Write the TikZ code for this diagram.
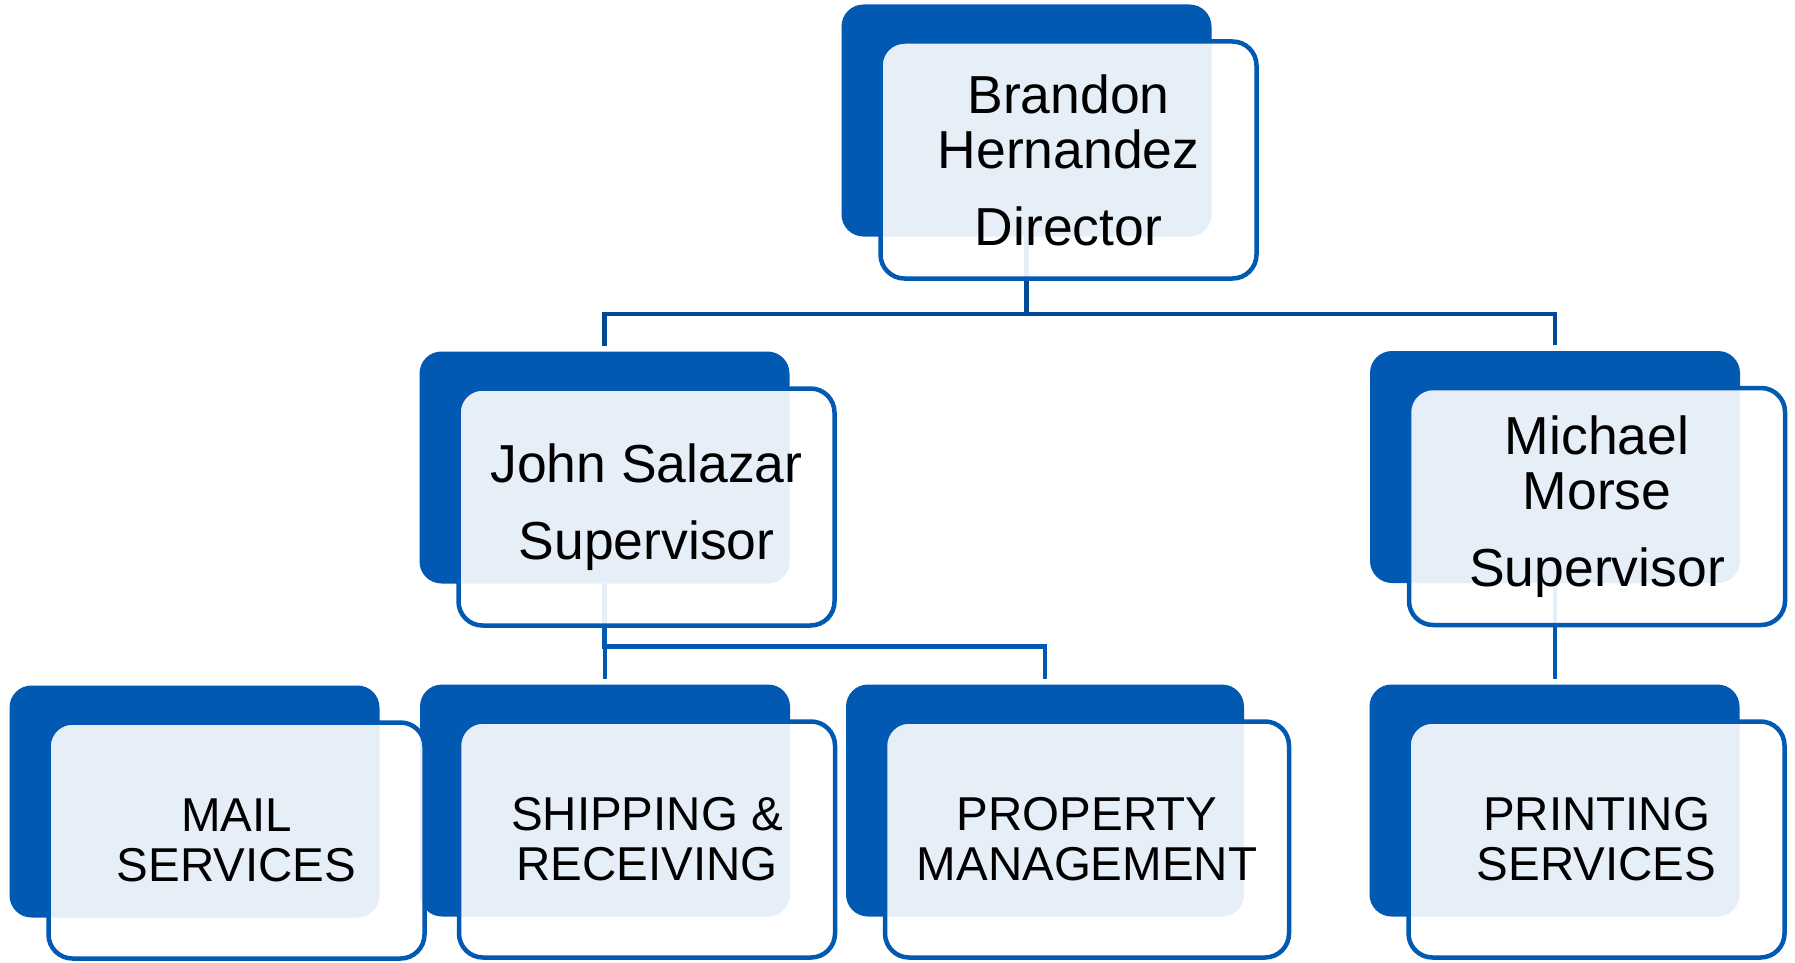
\documentclass[tikz,border=0pt]{standalone}
\usepackage{fontspec}
\setmainfont{Liberation Sans}
\usetikzlibrary{backgrounds}
\definecolor{boxblue}{RGB}{1,89,178}
\definecolor{linkblue}{RGB}{0,74,148}
\begin{document}
\begin{tikzpicture}[x=1pt,y=-1pt,
  backcard/.style={rectangle, rounded corners=22pt, fill=boxblue, draw=none,
    minimum width=370pt, minimum height=232pt, anchor=north west,
    inner sep=0pt, outer sep=0pt},
  frontcard/.style={rectangle, rounded corners=24pt, draw=boxblue, line width=4.5pt,
    fill=white, fill opacity=0.9, text opacity=1, text=black,
    minimum width=376pt, minimum height=237pt, anchor=north west,
    inner sep=0pt, outer sep=0pt, align=center},
  namefont/.style={font=\fontsize{53.5}{55}\selectfont},
  unitfont/.style={font=\fontsize{47.5}{50}\selectfont},
  toplink/.style={draw=linkblue, line width=4.5pt},
  sublink/.style={draw=boxblue, line width=4.5pt},
]
\useasboundingbox (0,0) rectangle (1795,963);

% back cards
\node[backcard] (dirB)  at (841.5,4.5) {};
\node[backcard] (johnB) at (419.5,351.5) {};
\node[backcard] (mikeB) at (1370,351) {};
\node[backcard] (mailB) at (9.5,685.5) {};
\node[backcard] (shipB) at (420,684.5) {};
\node[backcard, minimum width=398pt] (propB) at (846,684.5) {};
\node[backcard] (printB) at (1369.5,684.5) {};

% front cards with their labels
\node[frontcard, namefont] (dir) at (880.5,41.5)
  {Brandon\\Hernandez\\[22pt]Director};
\node[frontcard, namefont] (john) at (458.5,388.5)
  {John Salazar\\[22pt]Supervisor};
\node[frontcard, namefont] (mike) at (1409,388)
  {Michael\\Morse\\[22pt]Supervisor};
\node[frontcard, unitfont, minimum height=236pt] (mail) at (48.5,722.5)
  {MAIL\\SERVICES};
\node[frontcard, unitfont, minimum height=236pt] (ship) at (459,721.5)
  {SHIPPING \&\\RECEIVING};
\node[frontcard, unitfont, minimum height=236pt, minimum width=404pt] (prop) at (885,721.5)
  {PROPERTY\\MANAGEMENT};
\node[frontcard, unitfont, minimum height=236pt] (print) at (1408.5,721.5)
  {PRINTING\\SERVICES};

% reporting lines, kept beneath the cards
\begin{pgfonlayer}{background}
  \draw[toplink, shorten >=6pt] (dirB.south) -- ++(0,77.5) -| (johnB.north);
  \draw[toplink, shorten >=6pt] (dirB.south) -- ++(0,77.5) -| (mikeB.north);
  \draw[sublink, shorten >=6pt] (johnB.south) -- ++(0,63) -| (shipB.north);
  \draw[sublink, shorten >=6pt] (johnB.south) -- ++(0,63) -| (propB.north);
  \draw[sublink, shorten >=6pt] (mikeB.south) -- (mikeB.south |- printB.north);
\end{pgfonlayer}
\end{tikzpicture}
\end{document}
